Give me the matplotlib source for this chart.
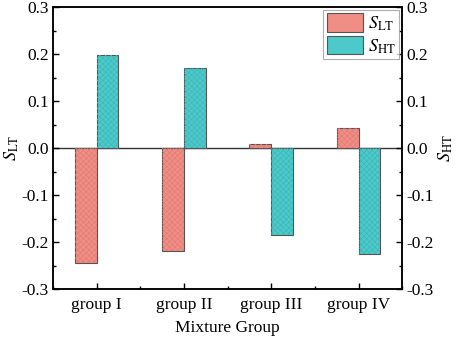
import matplotlib
matplotlib.use("Agg")
import matplotlib.pyplot as plt
import numpy as np
from matplotlib.ticker import MultipleLocator, FormatStrFormatter

plt.rcParams['font.family'] = ['Liberation Serif', 'DejaVu Serif']
plt.rcParams['mathtext.fontset'] = 'stix'
plt.rcParams['hatch.linewidth'] = 0.4
plt.rcParams['axes.unicode_minus'] = False

groups = ['group I', 'group II', 'group III', 'group IV']
s_lt = [-0.245, -0.220, 0.008, 0.042]
s_ht = [0.198, 0.171, -0.185, -0.225]

red = '#F08E86'
teal = '#4DC9C9'
edge = '#555555'

fig = plt.figure(figsize=(4.57, 3.40), dpi=100)
ax = fig.add_axes([0.116, 0.150, 0.764, 0.829])
ax2 = ax.twinx()

x = np.arange(len(groups))
w = 0.25
b1 = ax.bar(x - w/2, s_lt, w, color=red, edgecolor=edge, linewidth=0.8, label=r'$S_{\rm LT}$')
ax.bar(x - w/2, s_lt, w, facecolor='none', edgecolor='#E07A72', linewidth=0, hatch='xxxxxx')
b2 = ax2.bar(x + w/2, s_ht, w, color=teal, edgecolor=edge, linewidth=0.8, label=r'$S_{\rm HT}$')
ax2.bar(x + w/2, s_ht, w, facecolor='none', edgecolor='#3BB5B5', linewidth=0, hatch='xxxxxx')

ax.axhline(0, color='#333333', lw=1.0, zorder=0.5)

for a in (ax, ax2):
    a.set_ylim(-0.3, 0.3)
    a.yaxis.set_major_locator(MultipleLocator(0.1))
    a.yaxis.set_minor_locator(MultipleLocator(0.05))
    a.yaxis.set_major_formatter(FormatStrFormatter('%.1f'))
    a.tick_params(axis='y', which='both', direction='in', labelsize=12.5, pad=3)
    a.tick_params(axis='y', which='major', length=4, width=1)
    a.tick_params(axis='y', which='minor', length=2.5, width=1)
    for s in a.spines.values():
        s.set_linewidth(1.1)

ax.set_xlim(-0.5, 3.5)
ax.set_xticks(x)
ax.set_xticklabels(groups)
ax.xaxis.set_minor_locator(MultipleLocator(0.5))
ax.tick_params(axis='x', which='both', direction='in', labelsize=12.5, length=4, width=1, pad=6)
ax.tick_params(axis='x', which='minor', length=2.5)

ax.set_xlabel('Mixture Group', fontsize=12.5, labelpad=5)
ax.set_ylabel(r'$S_{\rm LT}$', fontsize=13, labelpad=0)
ax2.set_ylabel(r'$S_{\rm HT}$', fontsize=13, labelpad=2)

leg = ax2.legend(handles=[b1, b2], loc='upper right', fontsize=13,
                 frameon=True, fancybox=False, edgecolor='#999999',
                 handlelength=2.0, handleheight=1.2, borderaxespad=0.15,
                 handletextpad=0.3, labelspacing=0.15, borderpad=0.2)
leg.get_frame().set_linewidth(0.8)

fig.savefig('out.png', dpi=100)
